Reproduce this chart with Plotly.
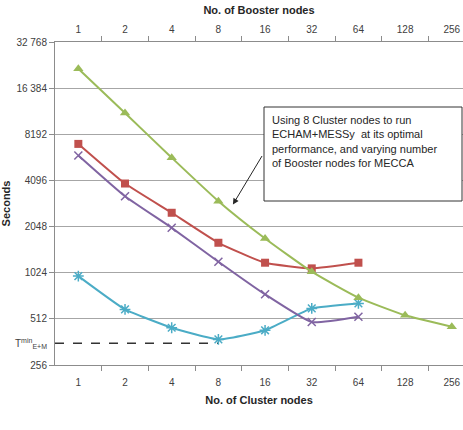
import numpy as np
import plotly.graph_objects as go

# ---- data ----
nodes_labels = ["1", "2", "4", "8", "16", "32", "64", "128", "256"]
nodes = [1, 2, 4, 8, 16, 32, 64, 128, 256]

booster_nodes = [1, 2, 4, 8, 16, 32, 64, 128, 256]
booster_secs = [21900, 11270, 5760, 3000, 1713, 1040, 704, 540, 455]

cluster_nodes = [1, 2, 4, 8, 16, 32, 64]
red_secs = [7090, 3910, 2520, 1606, 1190, 1093, 1190]
purple_secs = [5960, 3230, 2010, 1208, 740, 488, 529]
cyan_secs = [973, 590, 448, 376, 431, 599, 646]

tmin_value = 355
tmin_end_nodes = 8

y_ticks = [256, 512, 1024, 2048, 4096, 8192, 16384, 32768]
y_ticktext = ["256", "512", "1024", "2048", "4096", "8192", "16 384", "32 768"]

box_lines = ["Using 8 Cluster nodes to run",
             "ECHAM+MESSy  at its optimal",
             "performance, and varying number",
             "of Booster nodes for MECCA"]

GREEN = "#9BBB59"
RED = "#C0504D"
PURPLE = "#8064A2"
CYAN = "#4BACC6"
FONT = "Liberation Sans"
TXT = "#404040"

W, H = 463, 430
ML, MT, MB, MR = 55, 42, 65, 0

xr = [-0.5 * np.log10(2), 8.24 * np.log10(2)]
yr = [np.log10(256), np.log10(32768)]
minor_vals = [2 ** (k + 0.5) for k in range(0, 8)]

fig = go.Figure()

# dashed T_min line
fig.add_trace(go.Scatter(x=[2 ** -0.5, tmin_end_nodes], y=[tmin_value, tmin_value],
                         mode="lines", line=dict(color="#333333", width=1.5, dash="dash"),
                         hoverinfo="skip", showlegend=False, cliponaxis=False))

fig.add_trace(go.Scatter(x=cluster_nodes, y=cyan_secs, mode="lines+markers",
                         line=dict(color=CYAN, width=2, shape="spline", smoothing=0.4),
                         marker=dict(symbol="asterisk-open", size=9, color=CYAN,
                                     line=dict(color=CYAN, width=1.5)),
                         showlegend=False))
fig.add_trace(go.Scatter(x=cluster_nodes, y=purple_secs, mode="lines+markers",
                         line=dict(color=PURPLE, width=2, shape="spline", smoothing=0.4),
                         marker=dict(symbol="x-thin-open", size=8, color=PURPLE,
                                     line=dict(color=PURPLE, width=1.5)),
                         showlegend=False))
fig.add_trace(go.Scatter(x=cluster_nodes, y=red_secs, mode="lines+markers",
                         line=dict(color=RED, width=2, shape="spline", smoothing=0.4),
                         marker=dict(symbol="square", size=8, color=RED),
                         showlegend=False))
fig.add_trace(go.Scatter(x=booster_nodes, y=booster_secs, xaxis="x2", mode="lines+markers",
                         line=dict(color=GREEN, width=2, shape="spline", smoothing=0.5),
                         marker=dict(symbol="triangle-up", size=9, color=GREEN),
                         showlegend=False, cliponaxis=False))

axis_common = dict(
    type="log", range=xr, tickmode="array", tickvals=nodes, ticktext=nodes_labels,
    ticks="", showgrid=False, zeroline=False,
    showline=True, linecolor="#8c8c8c", linewidth=1,
    tickfont=dict(family=FONT, size=10, color=TXT),
    minor=dict(tickmode="array", tickvals=minor_vals, ticks="outside", ticklen=5,
               tickcolor="#8c8c8c", showgrid=False),
)

fig.update_layout(
    width=W, height=H,
    margin=dict(l=ML, r=MR, t=MT, b=MB),
    paper_bgcolor="white", plot_bgcolor="white",
    showlegend=False,
    xaxis=dict(**axis_common, ticklabelstandoff=8,
               title=dict(text="<b>No. of Cluster nodes</b>", standoff=9,
                          font=dict(family=FONT, size=11, color="#262626"))),
    xaxis2=dict(**axis_common, overlaying="x", side="top", ticklabelstandoff=4,
                title=dict(text="<b>No. of Booster nodes</b>", standoff=7,
                           font=dict(family=FONT, size=11, color="#262626"))),
    yaxis=dict(type="log", range=yr, tickmode="array", tickvals=y_ticks, ticktext=y_ticktext,
               ticks="outside", ticklen=5, tickcolor="#8c8c8c",
               showgrid=True, gridcolor="#a6a6a6", gridwidth=1,
               showline=True, linecolor="#8c8c8c", linewidth=1, zeroline=False,
               tickfont=dict(family=FONT, size=10, color=TXT),
               title=dict(text="<b>Seconds</b>", standoff=8,
                          font=dict(family=FONT, size=11, color="#262626"))),
)

# plot-area geometry for paper coordinates
PW = W - ML - MR
PH = H - MT - MB


def px_to_paper_x(px):
    return (px - ML) / PW


def px_to_paper_y(py):
    return (H - MB - py) / PH


# annotation box
fig.add_shape(type="rect", xref="paper", yref="paper",
              x0=px_to_paper_x(264), x1=px_to_paper_x(462),
              y0=px_to_paper_y(201), y1=px_to_paper_y(107),
              line=dict(color="#333333", width=1), fillcolor="white", layer="above")

for i, line in enumerate(box_lines):
    fig.add_annotation(xref="paper", yref="paper",
                       x=px_to_paper_x(270), y=px_to_paper_y(120 + 14.4 * i),
                       text=line, showarrow=False, xanchor="left", yanchor="middle",
                       font=dict(family=FONT, size=11, color="#262626"))

# arrow
head_x = 2 ** (-0.5 + (233 - ML) / 46.7)
head_y = 256 * 2 ** ((365.7 - 205) / 46.2)
fig.add_annotation(x=np.log10(head_x), y=np.log10(head_y), xref="x", yref="y",
                   ax=30, ay=-50, showarrow=True, arrowhead=2, arrowsize=1.2,
                   arrowwidth=1, arrowcolor="#262626", text="")

# T min label
fig.add_annotation(xref="paper", yref="y", x=0, y=np.log10(tmin_value),
                   xshift=-6, xanchor="right", yanchor="middle", showarrow=False,
                   text="T<sup>min</sup><sub>E+M</sub>",
                   font=dict(family=FONT, size=10, color=TXT))

fig.write_html("out.html")
